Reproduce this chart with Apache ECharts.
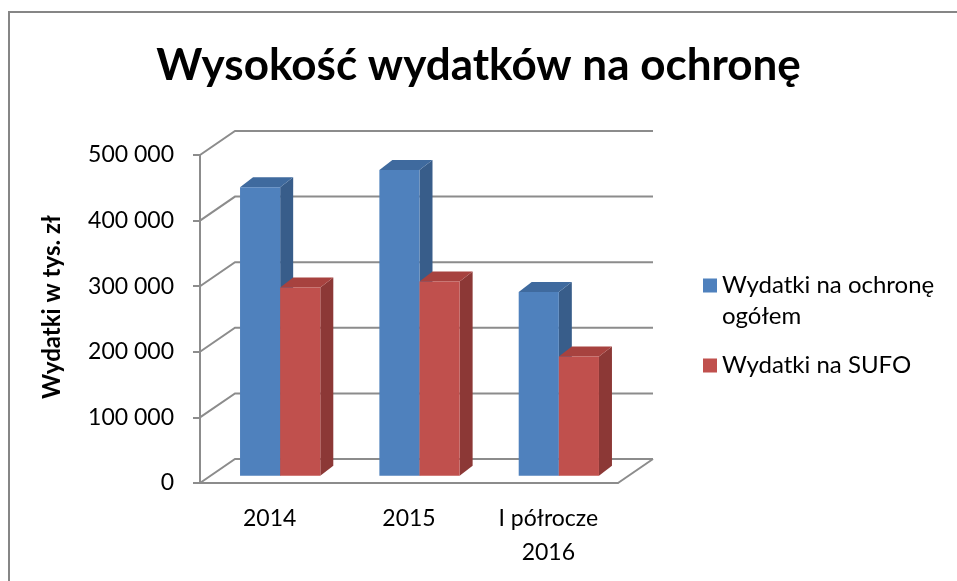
<!DOCTYPE html>
<html lang="pl">
<head>
<meta charset="UTF-8">
<title>Wysokość wydatków na ochronę</title>
<style>
  html, body { margin: 0; padding: 0; background: #fff; }
  #chart { width: 957px; height: 581px; }
</style>
<script src="https://cdn.jsdelivr.net/npm/echarts@6.0.0/dist/echarts.min.js"></script>
</head>
<body>
<div id="chart"></div>
<script>
// dane
const categories = ['2014', '2015', 'I półrocze\n2016'];
const seriesNames = ['Wydatki na ochronę ogółem', 'Wydatki na SUFO'];
const totalSpend = [440000, 466000, 280000];
const sufoSpend = [287000, 296000, 182000];
const yTicks = [0, 100000, 200000, 300000, 400000, 500000];

// wygląd 3D
const WALL_DX = 35, WALL_DY = -24;   // przesunięcie tylnej ściany
const BAR_DEPTH_POS = 0.3;           // gdzie stoi przód słupka
const BAR_DX = 13, BAR_DY = -10;     // głębokość słupka
const GRID_COLOR = '#8c8c8c';
const FONT = 'Lato, "Open Sans", sans-serif';

const palettes = [
  { front: '#4f81bd', side: '#385d8a', top: '#3f6a9e' },
  { front: '#c0504d', side: '#8c3836', top: '#a7423f' }
];

// ikonki legendy: kwadrat 14x14 u góry (dla 2 linii) lub na środku pudełka 14x45
const ICON_TOP = 'path://M0,0h14v14h-14zM0,44.99h0.01v0.01h-0.01z';
const ICON_MID = 'path://M0,15.5h14v14h-14zM0,0h0.01v0.01h-0.01zM0,44.99h0.01v0.01h-0.01z';

const fmt = v => String(v).replace(/\B(?=(\d{3})+(?!\d))/g, ' ');

const wallItem = (params, api) => {
  const cs = params.coordSys;
  const y = api.coord([0, api.value(0)])[1];
  const xL = cs.x, xR = cs.x + cs.width;
  const style = { stroke: GRID_COLOR, lineWidth: 2, fill: null };
  const children = [{
    type: 'polyline',
    shape: { points: [[xL, y], [xL + WALL_DX, y + WALL_DY], [xR + WALL_DX, y + WALL_DY]] },
    style
  }];
  if (api.value(0) === 0) {
    children.push({
      type: 'line',
      shape: { x1: xR, y1: y, x2: xR + WALL_DX, y2: y + WALL_DY },
      style
    });
  }
  return { type: 'group', children };
};

const barItem = idx => (params, api) => {
  const i = api.value(0), v = api.value(1);
  const base = api.coord([i, 0]);
  const top = api.coord([i, v]);
  const bw = api.size([1, 0])[0];
  const w = bw * 0.288;
  const sx = BAR_DEPTH_POS * WALL_DX, sy = BAR_DEPTH_POS * WALL_DY;
  const x0 = base[0] + (idx === 0 ? -w : 0) + sx;
  const x1 = x0 + w;
  const yb = base[1] + sy, yt = top[1] + sy;
  const p = palettes[idx];
  return {
    type: 'group',
    children: [
      { type: 'polygon', shape: { points: [[x1, yt], [x1 + BAR_DX, yt + BAR_DY], [x1 + BAR_DX, yb + BAR_DY], [x1, yb]] }, style: { fill: p.side } },
      { type: 'polygon', shape: { points: [[x0, yt], [x1, yt], [x1 + BAR_DX, yt + BAR_DY], [x0 + BAR_DX, yt + BAR_DY]] }, style: { fill: p.top } },
      { type: 'rect', shape: { x: x0, y: yt, width: w, height: yb - yt }, style: { fill: p.front } }
    ]
  };
};

const chart = echarts.init(document.getElementById('chart'));
chart.setOption({
  animation: false,
  title: {
    text: 'Wysokość wydatków na ochronę',
    left: 'center',
    top: 39,
    textStyle: { fontFamily: FONT, fontWeight: 'bold', fontSize: 44, color: '#000' }
  },
  graphic: [{
    type: 'rect',
    shape: { x: 9, y: 12, width: 1000, height: 1000 },
    style: { fill: null, stroke: '#868686', lineWidth: 2 },
    silent: true
  }],
  legend: {
    orient: 'vertical',
    left: 698,
    top: 265,
    itemWidth: 14,
    itemHeight: 45,
    itemGap: 11,
    data: [
      { name: seriesNames[0], icon: ICON_TOP },
      { name: seriesNames[1], icon: ICON_MID }
    ],
    formatter: name => name.replace(' ogółem', '\nogółem'),
    textStyle: { fontFamily: FONT, fontSize: 24, color: '#000', lineHeight: 31 }
  },
  grid: { left: 200, right: 339, top: 155, bottom: 98 },
  xAxis: {
    type: 'category',
    data: categories,
    axisLine: { show: true, lineStyle: { color: GRID_COLOR, width: 2 } },
    axisTick: { show: false },
    axisLabel: { fontFamily: FONT, fontSize: 23, color: '#000', margin: 19, lineHeight: 34 }
  },
  yAxis: {
    type: 'value',
    min: 0,
    max: 500000,
    interval: 100000,
    name: 'Wydatki w tys. zł',
    nameLocation: 'middle',
    nameRotate: 90,
    nameGap: 136,
    nameTextStyle: { fontFamily: FONT, fontWeight: 'bold', fontSize: 24, color: '#000', padding: [0, 0, 0, 24] },
    axisLine: { show: true, lineStyle: { color: GRID_COLOR, width: 2 } },
    axisTick: { show: true, length: 7, lineStyle: { color: GRID_COLOR, width: 2 } },
    splitLine: { show: false },
    axisLabel: { fontFamily: FONT, fontSize: 23, color: '#000', margin: 26, formatter: fmt }
  },
  series: [
    {
      type: 'custom',
      silent: true,
      clip: false,
      renderItem: wallItem,
      data: yTicks.map(v => [v]),
      encode: { y: 0 },
      z: 1
    },
    {
      name: seriesNames[0],
      type: 'custom',
      clip: false,
      renderItem: barItem(0),
      itemStyle: { color: palettes[0].front },
      data: totalSpend.map((v, i) => [i, v]),
      encode: { x: 0, y: 1 },
      z: 2
    },
    {
      name: seriesNames[1],
      type: 'custom',
      clip: false,
      renderItem: barItem(1),
      itemStyle: { color: palettes[1].front },
      data: sufoSpend.map((v, i) => [i, v]),
      encode: { x: 0, y: 1 },
      z: 3
    }
  ]
});
</script>
</body>
</html>
